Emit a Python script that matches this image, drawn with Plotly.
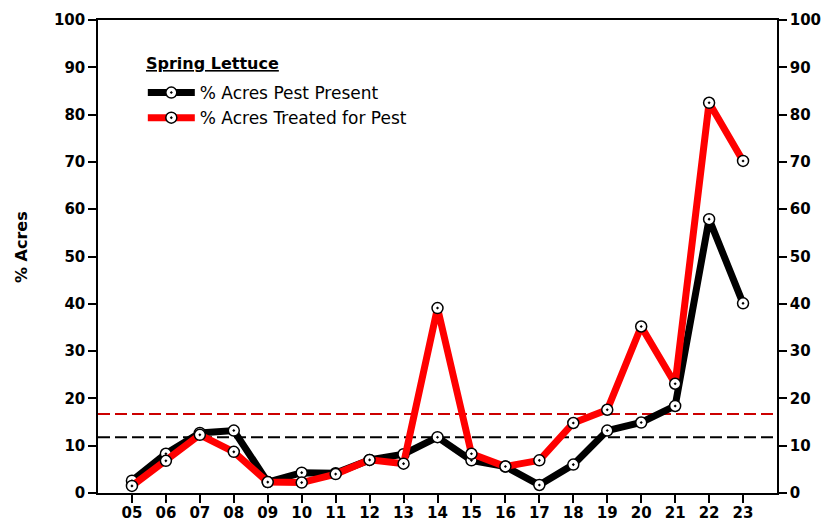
import plotly.graph_objects as go

years = ["05", "06", "07", "08", "09", "10", "11", "12", "13", "14",
         "15", "16", "17", "18", "19", "20", "21", "22", "23"]
pest_present = [2.6, 8.3, 12.7, 13.2, 2.3, 4.3, 4.2, 7.0, 8.2, 11.8,
                6.9, 5.6, 1.7, 6.0, 13.2, 14.9, 18.4, 57.9, 40.1]
treated = [1.5, 6.8, 12.3, 8.7, 2.3, 2.2, 4.0, 7.0, 6.2, 39.1,
           8.3, 5.6, 6.9, 14.8, 17.6, 35.2, 23.1, 82.5, 70.2]
present_ref = 11.8
treated_ref = 16.7
y_ticks = list(range(0, 101, 10))

FONT = "DejaVu Sans"
PLOT_W, PLOT_H = 679, 473
marker = dict(symbol="circle-dot", size=11, color="white",
              line=dict(color="black", width=1.5))

fig = go.Figure()
fig.add_trace(go.Scatter(x=years, y=pest_present, mode="lines+markers",
                         name="% Acres Pest Present",
                         line=dict(color="black", width=7), marker=marker))
fig.add_trace(go.Scatter(x=years, y=treated, mode="lines+markers",
                         name="% Acres Treated for Pest",
                         line=dict(color="#ff0000", width=7), marker=marker))
# invisible trace to anchor the right-hand axis
fig.add_trace(go.Scatter(x=years, y=treated, yaxis="y2", mode="lines",
                         line=dict(color="rgba(0,0,0,0)"), showlegend=False,
                         hoverinfo="skip"))

fig.add_hline(y=present_ref, line=dict(color="black", width=2, dash="12px,5px"), layer="below")
fig.add_hline(y=treated_ref, line=dict(color="#cc0000", width=2, dash="12px,5px"), layer="below")

tickfont = dict(family=FONT, size=15, color="black", weight="bold")
axis_common = dict(range=[0, 100], tickvals=y_ticks, ticks="outside", ticklen=8,
                   tickwidth=1.5, tickcolor="black", showline=True, linecolor="black",
                   linewidth=1.5, showgrid=False, zeroline=False, tickfont=tickfont,
                   automargin=False)

fig.update_layout(
    width=828, height=523,
    margin=dict(l=98, r=51, t=20, b=30),
    plot_bgcolor="white", paper_bgcolor="white",
    xaxis=dict(type="category", categoryorder="array", categoryarray=years,
               range=[-1, 19], ticks="outside", ticklen=8, tickwidth=1.5,
               tickcolor="black", showline=True, linecolor="black", linewidth=1.5,
               mirror=True, showgrid=False, zeroline=False, tickfont=tickfont,
               automargin=False, ticklabelstandoff=-3),
    yaxis=dict(**axis_common),
    yaxis2=dict(**axis_common, overlaying="y", side="right"),
    annotations=[
        dict(text="% Acres", xref="paper", yref="paper",
             x=-77 / PLOT_W, y=0.52, xanchor="center", yanchor="middle",
             textangle=-90, showarrow=False,
             font=dict(family=FONT, size=16, color="black", weight="bold")),
        dict(text="<b><u>Spring Lettuce</u></b>", xref="paper", yref="paper",
             x=(144 - 98) / PLOT_W, y=(493 - 63) / PLOT_H, xanchor="left", yanchor="middle",
             showarrow=False, font=dict(family=FONT, size=16, color="black")),
    ],
    legend=dict(x=0.066, y=(493 - 75) / PLOT_H, xanchor="left", yanchor="top",
                bgcolor="rgba(0,0,0,0)", borderwidth=0,
                font=dict(family=FONT, size=17, color="black"),
                itemwidth=47),
    showlegend=True,
)

fig.write_html("out.html", config={"displayModeBar": False},
               post_script="document.body.style.margin='0';document.body.style.overflow='hidden';")
